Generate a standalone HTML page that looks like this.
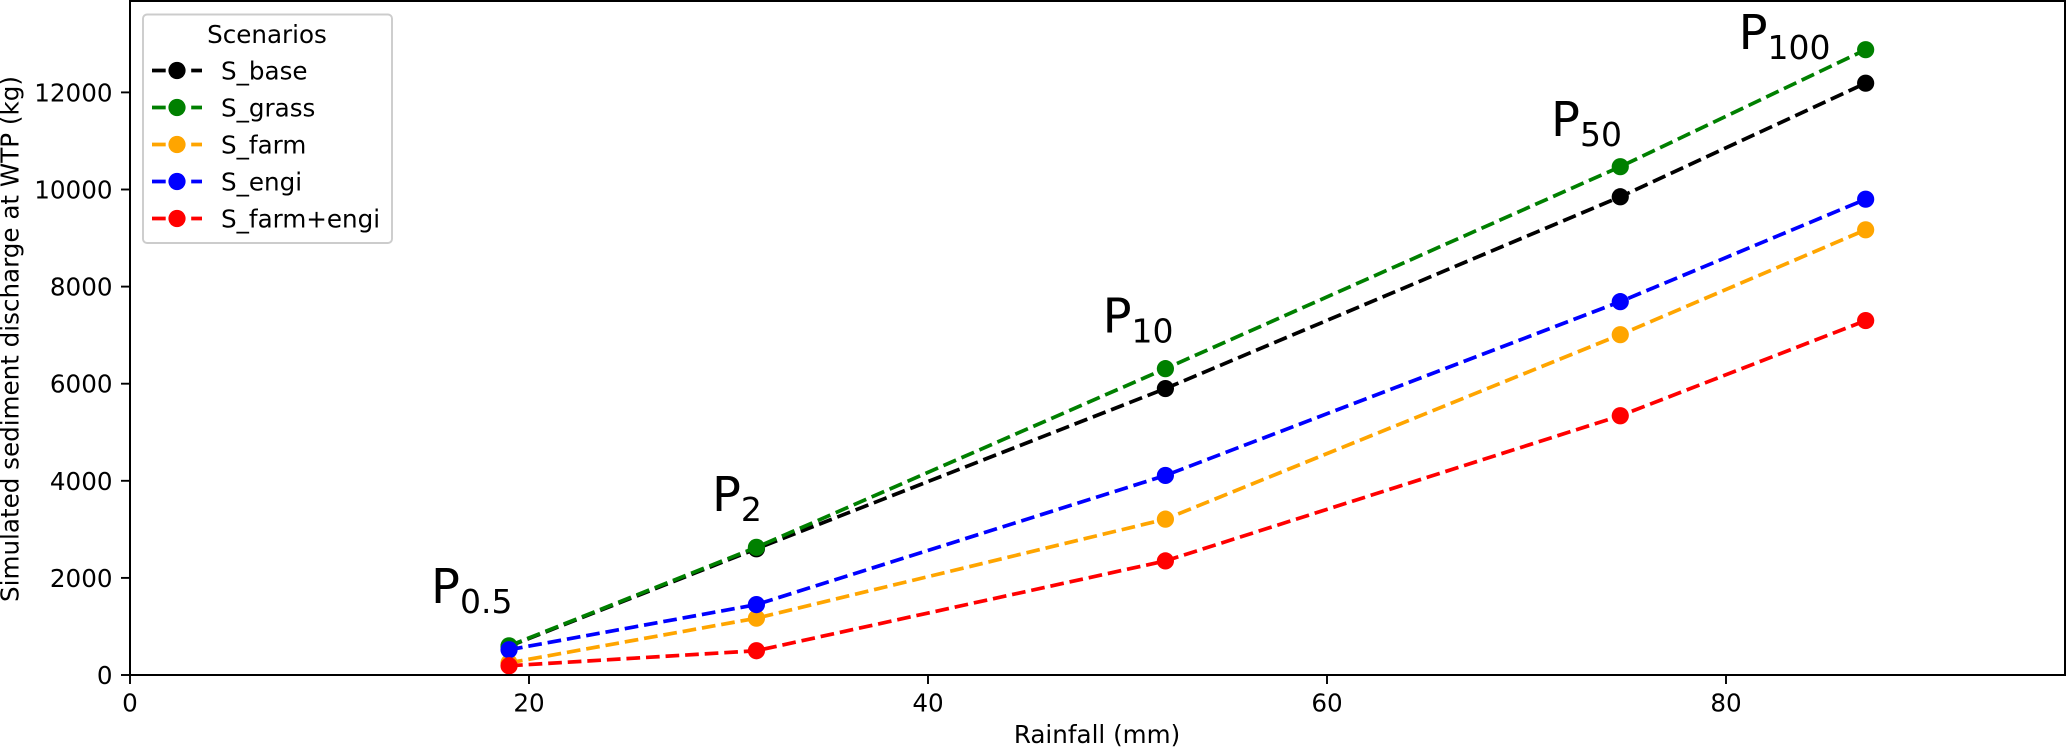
<!DOCTYPE html>
<html>
<head>
<meta charset="utf-8">
<style>
html,body{margin:0;padding:0;background:#fff;}
svg{display:block;}
text{font-family:"DejaVu Sans","Liberation Sans",sans-serif;fill:#000;}
</style>
</head>
<body>
<svg id="chart" xmlns="http://www.w3.org/2000/svg" width="2067" height="749" viewBox="0 0 2067 749"></svg>
<script>
const rainfall = [19, 31.4, 51.9, 74.7, 87];
const seriesNames = ["S_base", "S_grass", "S_farm", "S_engi", "S_farm+engi"];
const seriesColors = ["#000000", "#008000", "#ffa500", "#0000ff", "#ff0000"];
const sBase = [590, 2600, 5900, 9850, 12190];
const sGrass = [600, 2630, 6310, 10470, 12880];
const sFarm = [250, 1170, 3210, 7010, 9170];
const sEngi = [520, 1450, 4110, 7690, 9800];
const sFarmEngi = [190, 500, 2350, 5340, 7300];
const xTicks = [0, 20, 40, 60, 80];
const yTicks = [0, 2000, 4000, 6000, 8000, 10000, 12000];
const periodLabels = ["0.5", "2", "10", "50", "100"];
const periodLabelX = [15.09, 29.17, 48.75, 71.23, 80.63];
const periodLabelY = [1483, 3378, 7054, 11102, 12894];

const NS = "http://www.w3.org/2000/svg";
const svg = document.getElementById("chart");
const allSeries = [sBase, sGrass, sFarm, sEngi, sFarmEngi];
const plot = {left: 130, right: 2065, top: 1, bottom: 675};
const xPerUnit = 19.95;
const yPerUnit = 0.04855;
const fontSize = 24.6;
function xScale(v) { return plot.left + v * xPerUnit; }
function yScale(v) { return plot.bottom - v * yPerUnit; }
function make(tag, attrs, parent) {
  const el = document.createElementNS(NS, tag);
  for (const k in attrs) el.setAttribute(k, attrs[k]);
  (parent || svg).appendChild(el);
  return el;
}
const slug = s => s.toLowerCase().replace(/[^a-z0-9]+/g, "-");

const bg = make("rect", {x: 0, y: 0, width: 2067, height: 749, fill: "#fff"});



// ticks
xTicks.forEach(t => {
  const tick = make("line", {x1: xScale(t), x2: xScale(t), y1: plot.bottom, y2: plot.bottom + 9, stroke: "#000", "stroke-width": 1.9});
  
  
  const label = make("text", {x: xScale(t), y: 711.5, "text-anchor": "middle", "font-size": fontSize});
  
  
  label.textContent = t;
});
yTicks.forEach(t => {
  const tick = make("line", {x1: plot.left - 9, x2: plot.left, y1: yScale(t), y2: yScale(t), stroke: "#000", "stroke-width": 1.9});
  
  
  const label = make("text", {x: 112.5, y: yScale(t) + 9, "text-anchor": "end", "font-size": fontSize});
  
  
  label.textContent = t;
});

// series
allSeries.forEach((vals, i) => {
  const g = make("g", {});
  
  
  const pts = vals.map((v, j) => xScale(rainfall[j]) + "," + yScale(v)).join(" ");
  const line = make("polyline", {points: pts, fill: "none", stroke: seriesColors[i], "stroke-width": 3.7, "stroke-dasharray": "13.7 5.9"}, g);
  
  
  vals.forEach((v, j) => {
    const c = make("circle", {cx: xScale(rainfall[j]), cy: yScale(v), r: 8.6, fill: seriesColors[i]}, g);
    
    
  });
});

// period labels
periodLabels.forEach((p, i) => {
  const t = make("text", {x: xScale(periodLabelX[i]), y: yScale(periodLabelY[i]), "font-size": 48});
  
  
  const a = make("tspan", {}, t);
  a.textContent = "P";
  const b = make("tspan", {dy: 10, "font-size": 33}, t);
  b.textContent = p;
});

// spines
const frame = make("rect", {x: plot.left, y: plot.top, width: plot.right - plot.left, height: plot.bottom - plot.top, fill: "none", stroke: "#000", "stroke-width": 2});



// axis titles
const xTitle = make("text", {x: 1097, y: 743, "text-anchor": "middle", "font-size": fontSize});


xTitle.textContent = "Rainfall (mm)";
const yTitle = make("text", {transform: "translate(18.5,339) rotate(-90)", "text-anchor": "middle", "font-size": fontSize});


yTitle.textContent = "Simulated sediment discharge at WTP (kg)";

// legend
const legend = make("g", {});


const box = make("rect", {x: 143, y: 14.5, width: 249, height: 228.5, rx: 4, ry: 4, fill: "#fff", "fill-opacity": 0.8, stroke: "#ccc", "stroke-width": 1.9}, legend);


const legTitle = make("text", {x: 267, y: 43, "text-anchor": "middle", "font-size": fontSize}, legend);


legTitle.textContent = "Scenarios";
seriesNames.forEach((n, i) => {
  const y = 70.5 + i * 37;
  const entry = make("g", {}, legend);
  
  
  const l = make("line", {x1: 152, x2: 202, y1: y, y2: y, stroke: seriesColors[i], "stroke-width": 3.7, "stroke-dasharray": "13.7 5.9"}, entry);
  
  
  const c = make("circle", {cx: 177, cy: y, r: 8.6, fill: seriesColors[i]}, entry);
  
  
  const t = make("text", {x: 221, y: y + 9, "font-size": fontSize}, entry);
  
  
  t.textContent = n;
});
</script>
</body>
</html>
